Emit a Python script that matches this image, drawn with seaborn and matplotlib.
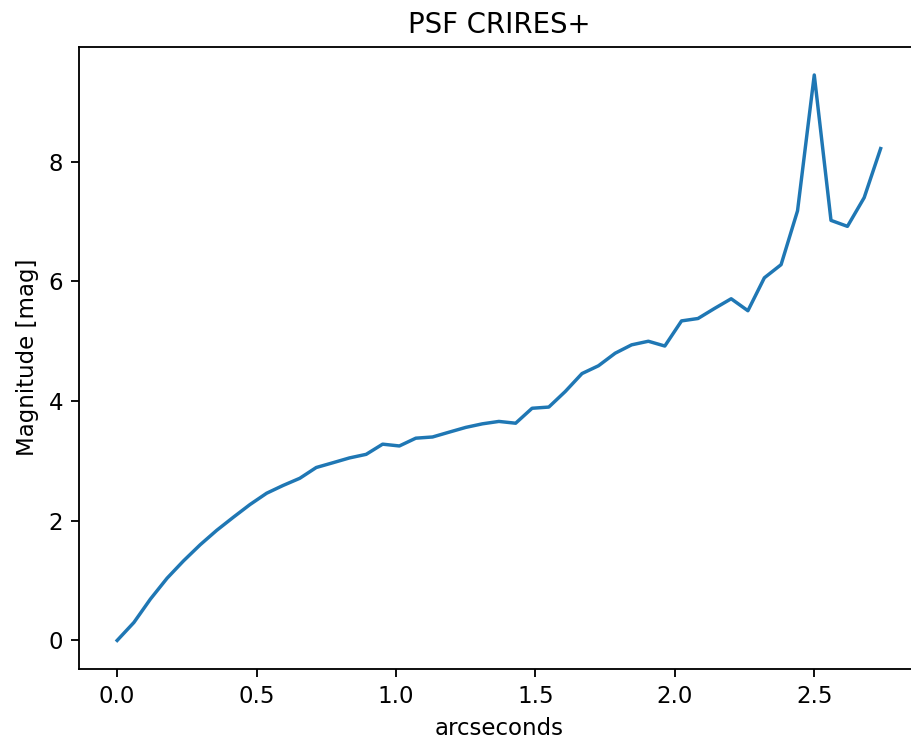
import matplotlib
matplotlib.use("Agg")
import matplotlib.pyplot as plt
import pandas as pd
import seaborn as sns

# Radial profile of the CRIRES+ PSF, expressed in magnitudes below the peak
arcseconds = [
    0.000, 0.060, 0.119, 0.179, 0.238, 0.298, 0.357, 0.417, 0.476, 0.536,
    0.595, 0.655, 0.714, 0.774, 0.833, 0.893, 0.952, 1.012, 1.071, 1.131,
    1.190, 1.250, 1.310, 1.369, 1.429, 1.488, 1.548, 1.607, 1.667, 1.726,
    1.786, 1.845, 1.905, 1.964, 2.024, 2.083, 2.143, 2.202, 2.262, 2.321,
    2.381, 2.440, 2.500, 2.560, 2.619, 2.679, 2.738,
]
magnitude = [
    0.00, 0.30, 0.69, 1.04, 1.33, 1.60, 1.84, 2.06, 2.27, 2.46,
    2.59, 2.71, 2.89, 2.97, 3.05, 3.11, 3.28, 3.25, 3.38, 3.40,
    3.48, 3.56, 3.62, 3.66, 3.63, 3.88, 3.90, 4.16, 4.46, 4.59,
    4.80, 4.94, 5.00, 4.92, 5.34, 5.38, 5.55, 5.71, 5.51, 6.06,
    6.28, 7.18, 9.45, 7.02, 6.92, 7.40, 8.22,
]

df = pd.DataFrame({"arcseconds": arcseconds, "magnitude": magnitude})

s = 1.65  # scale factor applied to the classic matplotlib sizes
plt.rcParams.update({
    "font.family": "DejaVu Sans",
    "axes.linewidth": 0.8 * s,
    "xtick.major.size": 3.5 * s,
    "ytick.major.size": 3.5 * s,
    "xtick.major.width": 0.8 * s,
    "ytick.major.width": 0.8 * s,
    "xtick.major.pad": 3.5 * s,
    "ytick.major.pad": 3.5 * s,
    "axes.edgecolor": "black",
})

fig = plt.figure(figsize=(9.11, 7.40), dpi=100)
# the axes run past the right edge of the canvas, so the right spine is cut off
ax = fig.add_axes([79 / 911, 71.3 / 740, 839.8 / 911, 622 / 740])

sns.lineplot(data=df, x="arcseconds", y="magnitude", ax=ax,
             color="#1f77b4", linewidth=1.5 * s)

ax.set_title("PSF CRIRES+", fontsize=12 * s, pad=6 * s)
ax.set_xlabel("arcseconds", fontsize=10 * s, labelpad=4 * s)
ax.set_ylabel("Magnitude [mag]", fontsize=10 * s, labelpad=4 * s)
ax.tick_params(labelsize=10 * s)
ax.set_xticks([0.0, 0.5, 1.0, 1.5, 2.0, 2.5])
ax.set_yticks([0, 2, 4, 6, 8])
ax.margins(x=0.05, y=0.05)
ax.spines["right"].set_visible(False)

fig.savefig("out.png", dpi=100)
